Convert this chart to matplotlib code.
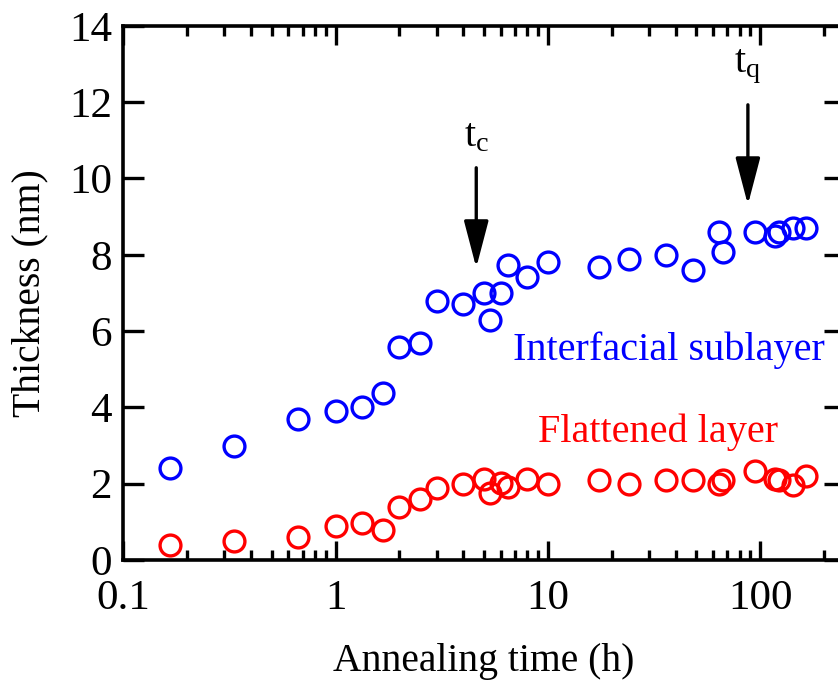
import matplotlib
matplotlib.use("Agg")
import matplotlib.pyplot as plt
from matplotlib.ticker import LogLocator, FixedLocator, NullFormatter

# --- DATA ---
time_blue = [0.167, 0.333, 0.667, 1.0, 1.33, 1.67, 2.0, 2.5, 3.0, 4.0, 5.0, 5.33, 6.0, 6.5,
             8.0, 10.0, 17.5, 24.0, 36.0, 48.0, 64.0, 67.0, 95.0, 118.0, 123.0, 143.0, 164.0]
sublayer = [2.41, 3.0, 3.7, 3.9, 4.0, 4.38, 5.58, 5.69, 6.78, 6.7, 7.01, 6.29, 7.01, 7.73,
            7.43, 7.8, 7.69, 7.9, 8.0, 7.6, 8.6, 8.08, 8.6, 8.5, 8.6, 8.7, 8.71]

time_red = [0.167, 0.333, 0.667, 1.0, 1.33, 1.67, 2.0, 2.5, 3.0, 4.0, 5.0, 5.33, 6.0, 6.5,
            8.0, 10.0, 17.5, 24.0, 36.0, 48.0, 64.0, 67.0, 95.0, 118.0, 123.0, 143.0, 164.0]
flattened = [0.40, 0.51, 0.60, 0.89, 0.98, 0.79, 1.38, 1.59, 1.88, 1.98, 2.12, 1.76, 2.01, 1.9,
             2.12, 1.98, 2.1, 2.0, 2.1, 2.1, 2.0, 2.1, 2.32, 2.12, 2.1, 1.97, 2.2]

t_c = 4.6
t_q = 87.5

# --- STYLE ---
plt.rcParams['font.family'] = ['Liberation Serif', 'DejaVu Serif']
plt.rcParams['mathtext.fontset'] = 'custom'
plt.rcParams['mathtext.rm'] = 'Liberation Serif'
plt.rcParams['mathtext.it'] = 'Liberation Serif'
FS_TICK = 31
FS_LABEL = 28.5
FS_TEXT = 29

fig = plt.figure(figsize=(8.38, 6.8), dpi=100)
ax = fig.add_axes([0.147, 0.1765, 0.861, 0.7855])

mk = dict(marker='o', linestyle='none', markersize=15, markerfacecolor='none', markeredgewidth=2.4)
ax.plot(time_blue, sublayer, color='#0000ff', **mk)
ax.plot(time_red, flattened, color='#ff0000', **mk)

ax.set_xscale('log')
ax.set_xlim(0.1, 250)
ax.set_ylim(0, 14)
ax.yaxis.set_major_locator(FixedLocator(range(0, 15, 2)))
ax.xaxis.set_minor_locator(LogLocator(base=10, subs=range(2, 10), numticks=20))
ax.xaxis.set_minor_formatter(NullFormatter())
ax.set_xticks([0.1, 1, 10, 100])
ax.set_xticklabels(['0.1', '1', '10', '100'])

for s in ax.spines.values():
    s.set_linewidth(2.6)
ax.tick_params(which='both', direction='in', top=True, right=True, labelsize=FS_TICK, width=2.4)
ax.tick_params(axis='x', which='major', length=14, pad=14)
ax.tick_params(axis='y', which='major', length=15, pad=8)
ax.tick_params(which='minor', length=7)

ax.set_xlabel('Annealing time (h)', fontsize=FS_LABEL, labelpad=18)
ax.set_ylabel('Thickness (nm)', fontsize=FS_LABEL, labelpad=15)

ax.text(37, 5.5, 'Interfacial sublayer', color='#0000ff', fontsize=FS_TEXT, ha='center', va='center')
ax.text(33, 3.36, 'Flattened layer', color='#ff0000', fontsize=FS_TEXT, ha='center', va='center')

arrow = dict(arrowstyle='-|>,head_length=1.45,head_width=0.38', color='black', lw=2.4,
             shrinkA=0, shrinkB=0, mutation_scale=20)
ax.annotate('', xy=(t_c, 7.66), xytext=(t_c, 10.28), arrowprops=arrow)
ax.annotate('', xy=(t_q, 9.31), xytext=(t_q, 11.93), arrowprops=arrow)
ax.text(t_c, 10.83, r'$\mathrm{t_c}$', fontsize=FS_TEXT, ha='center', va='baseline')
ax.text(t_q, 12.79, r'$\mathrm{t_q}$', fontsize=FS_TEXT, ha='center', va='baseline')

fig.savefig('out.png', dpi=100)
